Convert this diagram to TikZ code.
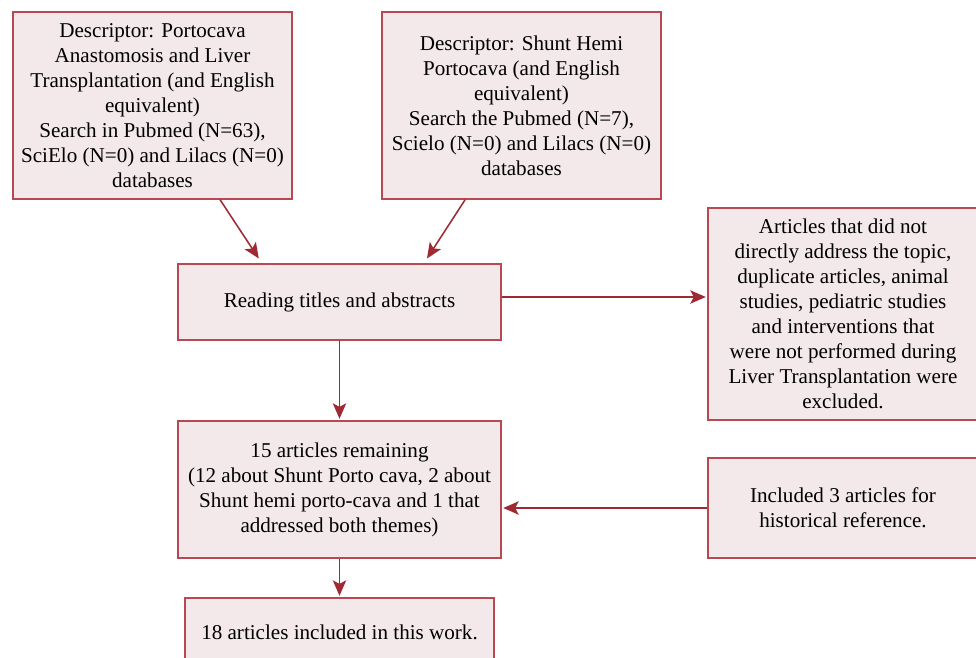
\documentclass[tikz,border=0pt]{standalone}
\usepackage{fontspec}
\setmainfont{Liberation Serif}
\usetikzlibrary{arrows.meta,calc}
\definecolor{boxline}{RGB}{184,72,82}
\definecolor{boxfill}{RGB}{243,232,234}
\definecolor{arrowred}{RGB}{160,42,52}

\begin{document}
\begin{tikzpicture}[x=0.025cm,y=-0.025cm,
    >={Stealth[length=11pt,width=9.5pt,inset=2.5pt]},
    font=\fontsize{15}{17.8}\selectfont,
    flowbox/.style={draw=boxline,fill=boxfill,line width=1.1pt,align=center,inner sep=0pt},
    flow/.style={->,draw=arrowred,fill=arrowred,line width=1.1pt}]
                \useasboundingbox (0,0) rectangle (976,658);
                \node[flowbox,minimum width=6.975cm,minimum height=4.675cm] (descA) at (152.5,105.5)
                    {Descriptor: Portocava\\Anastomosis and Liver\\Transplantation (and English\\equivalent)\\Search in Pubmed (N=63),\\SciElo (N=0) and Lilacs (N=0)\\databases};
                \node[flowbox,minimum width=6.975cm,minimum height=4.675cm] (descB) at (521.5,105.5)
                    {Descriptor: Shunt Hemi\\Portocava (and English\\equivalent)\\Search the Pubmed (N=7),\\Scielo (N=0) and Lilacs (N=0)\\databases};
                \node[flowbox,minimum width=8.075cm,minimum height=1.9cm] (read) at (339.5,302)
                    {Reading titles and abstracts};
                \node[flowbox,minimum width=6.75cm,minimum height=5.3cm] (excl) at (843,314)
                    {Articles that did not\\directly address the topic,\\duplicate articles, animal\\studies, pediatric studies\\and interventions that\\were not performed during\\Liver Transplantation were\\excluded.};
                \node[flowbox,minimum width=8.075cm,minimum height=3.425cm] (remain) at (339.5,489.5)
                    {15 articles remaining\\(12 about Shunt Porto cava, 2 about\\Shunt hemi porto-cava and 1 that\\addressed both themes)};
                \node[flowbox,minimum width=6.75cm,minimum height=2.5cm] (hist) at (843,508)
                    {Included 3 articles for\\historical reference.};
                \node[flowbox,minimum width=7.725cm,minimum height=1.7cm] (final) at (339.5,632)
                    {18 articles included in this work.};
                % connectors
                \draw[flow,shorten >=4pt] ([xshift=1.69cm]descA.south) -- ([xshift=-1.94cm]read.north);
                \draw[flow,shorten >=4pt] ([xshift=-1.41cm]descB.south) -- ([xshift=2.11cm]read.north);
                \draw[flow,shorten >=1pt] ([yshift=0.125cm]read.east) -- ([yshift=0.125cm]read.east -| excl.west);
                \draw[flow,shorten >=1pt] (read.south) -- (remain.north);
                \draw[flow,shorten >=1pt] (hist.west) -- (hist.west -| remain.east);
                \draw[flow,shorten >=1pt] (remain.south) -- (final.north);
            \end{tikzpicture}
\end{document}
